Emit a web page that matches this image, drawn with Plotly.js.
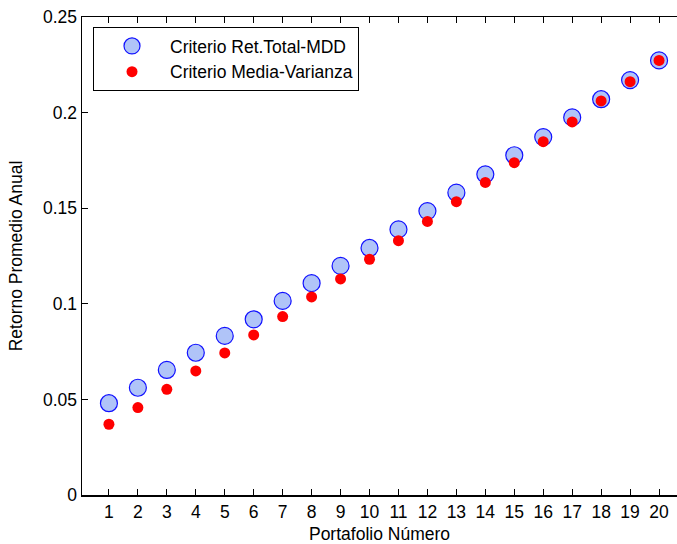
<!DOCTYPE html>
<html>
<head>
<meta charset="utf-8">
<script src="https://cdn.plot.ly/plotly-3.0.1.min.js"></script>
<style>html,body{margin:0;padding:0;background:#fff;}#chart{width:677px;height:544px;}</style>
</head>
<body>
<div id="chart"></div>
<script>
const portfolios = [1,2,3,4,5,6,7,8,9,10,11,12,13,14,15,16,17,18,19,20];
const retTotalMDD = [0.0480,0.0561,0.0654,0.0744,0.0832,0.0919,0.1015,0.1108,0.1198,0.1292,0.1389,0.1485,0.1581,0.1677,0.1777,0.1872,0.1975,0.2070,0.2170,0.2273];
const mediaVarianza = [0.0370,0.0457,0.0553,0.0649,0.0743,0.0837,0.0933,0.1036,0.1130,0.1233,0.1330,0.1431,0.1534,0.1635,0.1738,0.1848,0.1951,0.2061,0.2162,0.2273];
const seriesNames = ['Criterio Ret.Total-MDD','Criterio Media-Varianza'];
const yTicks = [0,0.05,0.1,0.15,0.2,0.25];
const yTickText = ['0','0.05','0.1','0.15','0.2','0.25'];

const font = {family:'Liberation Sans, Arial, sans-serif', size:17.5, color:'#000'};

const traces = [
  {x:portfolios, y:retTotalMDD, name:seriesNames[0], type:'scatter', mode:'markers',
   marker:{size:17, color:'#b0c4f8', line:{color:'#1010ff', width:1.2}}},
  {x:portfolios, y:mediaVarianza, name:seriesNames[1], type:'scatter', mode:'markers',
   marker:{size:11, color:'#ff0000', line:{width:0}}}
];

const layout = {
  width:677, height:544,
  margin:{l:82, r:0, t:17, b:49},
  paper_bgcolor:'#fff', plot_bgcolor:'#fff',
  font:font,
  showlegend:true,
  legend:{x:0.0185, y:0.979, xanchor:'left', yanchor:'top', bgcolor:'#fff',
          bordercolor:'#000', borderwidth:1, font:font, itemwidth:66,
          tracegroupgap:0},
  xaxis:{range:[0.07,20.62], tickmode:'array', tickvals:portfolios,
         ticks:'inside', ticklen:6, tickcolor:'#000', showline:true, linecolor:'#000', linewidth:1.5,
         mirror:'ticks', showgrid:false, zeroline:false, tickfont:font, automargin:false,
         title:{text:'Portafolio Número', font:font, standoff:7}},
  yaxis:{range:[0,0.25], tickmode:'array', tickvals:yTicks, ticktext:yTickText,
         ticks:'inside', ticklen:6, tickcolor:'#000', showline:true, linecolor:'#000', linewidth:1.5,
         showgrid:false, zeroline:false, tickfont:font, automargin:false,
         title:{text:'Retorno Promedio Anual', font:font, standoff:16}}
};

Plotly.newPlot('chart', traces, layout, {displayModeBar:false, staticPlot:true});
</script>
</body>
</html>
